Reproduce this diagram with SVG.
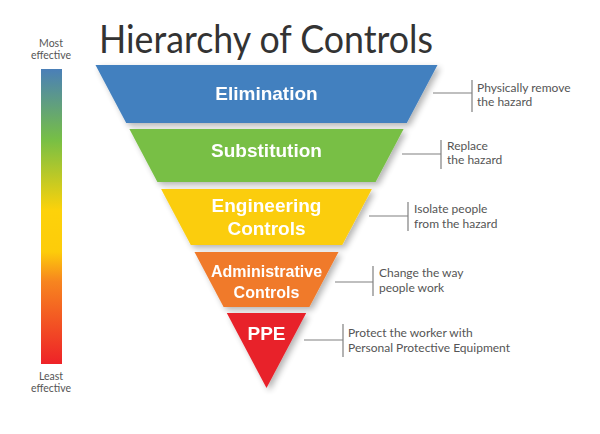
<svg xmlns="http://www.w3.org/2000/svg" width="600" height="434" viewBox="0 0 600 434">
<defs>
<linearGradient id="bar" x1="0" y1="0" x2="0" y2="1">
<stop offset="0" stop-color="#4a7fb8"/>
<stop offset="0.24" stop-color="#77bf45"/>
<stop offset="0.48" stop-color="#fdd20a"/>
<stop offset="0.62" stop-color="#fdcc0a"/>
<stop offset="0.72" stop-color="#f7851f"/>
<stop offset="1" stop-color="#ee2228"/>
</linearGradient>
<filter id="sh" x="-10%" y="-10%" width="130%" height="130%">
<feGaussianBlur in="SourceAlpha" stdDeviation="3"/>
<feOffset dx="3" dy="3" result="b"/>
<feComponentTransfer><feFuncA type="linear" slope="0.3"/></feComponentTransfer>
<feMerge><feMergeNode/><feMergeNode in="SourceGraphic"/></feMerge>
</filter>
<style>
.lbl{font-family:"Liberation Sans",Arial,sans-serif;font-weight:bold;fill:#fff;text-anchor:middle}
.note{font-family:Lato,"Open Sans",sans-serif;font-size:12px;fill:#555}
.side{font-family:Lato,"Open Sans",sans-serif;font-size:10.5px;fill:#555;text-anchor:middle}
.ln{stroke:#808080;stroke-width:1.2;fill:none}
</style>
</defs>
<rect width="600" height="434" fill="#fff"/>
<g id="title"><text x="99" y="53" font-family="Lato,'Open Sans',sans-serif" font-size="38" fill="#333" textLength="334" lengthAdjust="spacingAndGlyphs">Hierarchy of Controls</text></g>
<g id="scale">
<text class="side" x="51" y="47">Most</text>
<text class="side" x="51" y="59">effective</text>
<rect x="41" y="69" width="21" height="295" fill="url(#bar)"/>
<text class="side" x="51" y="380">Least</text>
<text class="side" x="51" y="392">effective</text>
</g>
<g filter="url(#sh)">
<g id="elimination"><polygon points="95.5,65 437.5,65 406.8,123 126.2,123" fill="#4380bf"/><text class="lbl" x="266.5" y="100" font-size="19">Elimination</text></g>
<g id="substitution"><polygon points="129.4,129 403.6,129 375.6,182 157.4,182" fill="#78bf45"/><text class="lbl" x="266.5" y="157" font-size="19">Substitution</text></g>
<g id="engineering"><polygon points="161.1,189 371.9,189 342.2,245 190.8,245" fill="#fbcd0c"/><text class="lbl" x="266.5" y="212" font-size="19">Engineering</text><text class="lbl" x="266.5" y="235" font-size="19">Controls</text></g>
<g id="administrative"><polygon points="194.5,252 338.5,252 309.4,307 223.6,307" fill="#f07a2a"/><text class="lbl" x="266.5" y="277" font-size="16">Administrative</text><text class="lbl" x="266.5" y="298" font-size="16">Controls</text></g>
<g id="ppe"><polygon points="226.8,313 306.2,313 266.5,388" fill="#e8222a"/><text class="lbl" x="266.5" y="340" font-size="19">PPE</text></g>
</g>
<g id="connectors">
<path class="ln" d="M433,93H472M472,80V112"/>
<path class="ln" d="M402,154H441M441,140V169"/>
<path class="ln" d="M369,216H408M408,202V231"/>
<path class="ln" d="M335,282H373M373,266V296"/>
<path class="ln" d="M304,340H343M343,324V357"/>
</g>
<g id="notes">
<text class="note" x="477" y="92">Physically remove</text>
<text class="note" x="477" y="106">the hazard</text>
<text class="note" x="447" y="150">Replace</text>
<text class="note" x="447" y="164">the hazard</text>
<text class="note" x="414" y="213">Isolate people</text>
<text class="note" x="414" y="228">from the hazard</text>
<text class="note" x="379" y="277">Change the way</text>
<text class="note" x="379" y="292">people work</text>
<text class="note" x="348" y="337">Protect the worker with</text>
<text class="note" x="348" y="352">Personal Protective Equipment</text>
</g>
</svg>
